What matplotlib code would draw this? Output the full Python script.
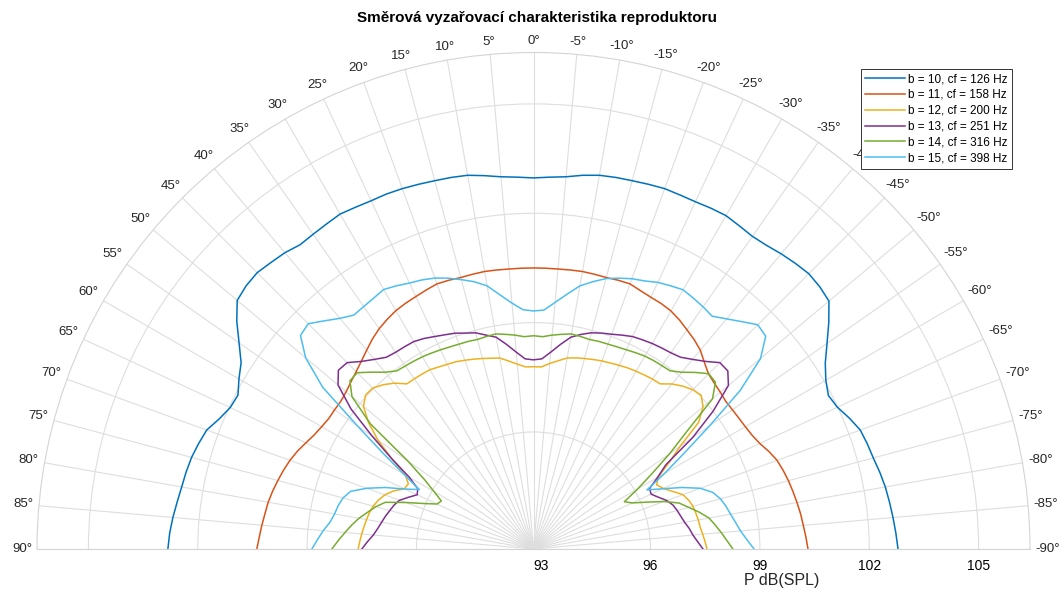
import numpy as np
import matplotlib
matplotlib.use("Agg")
import matplotlib.pyplot as plt

plt.rcParams['font.family'] = ['Liberation Sans', 'DejaVu Sans']

# angles in degrees, -90 (right) .. 90 (left), step 2.5
theta_deg = np.arange(-90, 90.1, 2.5)

labels = ['b = 10, cf = 126 Hz', 'b = 11, cf = 158 Hz', 'b = 12, cf = 200 Hz',
          'b = 13, cf = 251 Hz', 'b = 14, cf = 316 Hz', 'b = 15, cf = 398 Hz']

# values in dB(SPL), ordered from -90 to 90 deg
spl_b10 = [102.79, 102.74, 102.69, 102.64, 102.59, 102.52, 102.44, 102.39, 102.33, 102.17, 101.99, 101.91,
           102.05, 102.28, 102.62, 103.00, 103.37, 103.44, 103.47, 103.42, 103.36, 103.29, 103.26, 103.30,
           103.35, 103.33, 103.30, 103.30, 103.31, 103.28, 103.25, 103.23, 103.20, 103.13, 103.04, 103.00,
           102.97,
           103.00, 103.04, 103.12, 103.20, 103.23, 103.25, 103.28, 103.31, 103.33, 103.33, 103.36, 103.40,
           103.36, 103.33, 103.31, 103.40, 103.45, 103.51, 103.48, 103.40, 103.05, 102.65, 102.30, 102.12,
           101.93, 101.97, 102.12, 102.33, 102.42, 102.50, 102.55, 102.59, 102.65, 102.72, 102.78, 102.82]
spl_b11 = [100.32, 100.27, 100.22, 100.18, 100.13, 100.08, 100.03, 99.97, 99.90, 99.78, 99.64, 99.55,
           99.50, 99.47, 99.45, 99.44, 99.48, 99.52, 99.58, 99.73, 99.91, 100.03, 100.13, 100.24,
           100.33, 100.38, 100.41, 100.46, 100.53, 100.52, 100.50, 100.51, 100.52, 100.51, 100.50, 100.50,
           100.50,
           100.50, 100.50, 100.51, 100.52, 100.51, 100.50, 100.52, 100.53, 100.48, 100.43, 100.39, 100.34,
           100.26, 100.17, 100.05, 99.91, 99.78, 99.67, 99.58, 99.50, 99.45, 99.45, 99.45, 99.50,
           99.57, 99.68, 99.80, 99.90, 99.98, 100.05, 100.12, 100.18, 100.22, 100.27, 100.32, 100.38]
spl_b12 = [97.55, 97.50, 97.45, 97.40, 97.38, 97.35, 97.32, 97.25, 97.15, 96.92, 96.72, 96.60,
           96.74, 97.20, 97.70, 98.50, 98.86, 99.03, 98.97, 98.85, 98.70, 98.50, 98.48, 98.45,
           98.42, 98.39, 98.35, 98.31, 98.28, 98.24, 98.20, 98.16, 98.11, 98.00, 97.90, 97.79,
           97.79,
           97.79, 97.88, 97.99, 98.11, 98.15, 98.20, 98.25, 98.30, 98.35, 98.38, 98.42, 98.47,
           98.48, 98.49, 98.50, 98.73, 98.90, 99.03, 99.04, 98.88, 98.50, 98.00, 97.40, 96.85,
           96.66, 96.70, 96.95, 97.13, 97.25, 97.34, 97.40, 97.44, 97.48, 97.52, 97.56, 97.60]
spl_b13 = [97.44, 97.30, 97.18, 97.10, 97.00, 96.93, 96.87, 96.80, 96.68, 96.50, 96.35, 96.38,
           96.72, 97.10, 98.12, 99.00, 99.77, 100.02, 100.02, 99.77, 99.58, 99.42, 99.36, 99.33,
           99.30, 99.26, 99.22, 99.14, 99.06, 99.00, 98.93, 98.82, 98.69, 98.45, 98.21, 98.01,
           97.98,
           98.01, 98.21, 98.45, 98.69, 98.80, 98.93, 99.00, 99.09, 99.15, 99.22, 99.30, 99.36,
           99.37, 99.38, 99.42, 99.58, 99.77, 100.02, 100.05, 99.79, 99.10, 98.20, 97.40, 96.72,
           96.37, 96.31, 96.50, 96.70, 96.80, 96.87, 96.95, 97.02, 97.10, 97.20, 97.35, 97.50]
spl_b14 = [98.26, 98.10, 97.96, 97.82, 97.68, 97.45, 97.20, 96.98, 96.60, 96.15, 95.78, 95.60,
           96.10, 96.65, 97.35, 98.10, 99.20, 99.56, 99.59, 99.36, 99.12, 98.95, 98.93, 98.92,
           98.90, 98.86, 98.82, 98.79, 98.77, 98.76, 98.74, 98.76, 98.78, 98.73, 98.68, 98.62,
           98.64,
           98.62, 98.68, 98.73, 98.78, 98.76, 98.74, 98.76, 98.77, 98.79, 98.82, 98.85, 98.88,
           98.90, 98.92, 98.95, 99.12, 99.37, 99.63, 99.62, 99.29, 98.43, 97.00, 96.34, 95.94,
           95.64, 95.71, 96.05, 96.52, 97.05, 97.27, 97.45, 97.65, 97.82, 97.98, 98.15, 98.32]
spl_b15 = [98.84, 98.65, 98.49, 98.38, 98.28, 98.20, 98.10, 97.95, 97.66, 97.20, 96.70, 96.30,
           96.95, 97.70, 98.70, 99.94, 100.92, 101.43, 101.49, 101.25, 101.03, 100.84, 100.90, 100.95,
           101.00, 100.93, 100.86, 100.75, 100.68, 100.58, 100.47, 100.30, 100.12, 99.84, 99.58, 99.35,
           99.32,
           99.36, 99.56, 99.82, 100.12, 100.30, 100.44, 100.58, 100.70, 100.78, 100.84, 100.93, 101.01,
           100.95, 100.91, 100.88, 101.05, 101.28, 101.53, 101.46, 100.95, 100.08, 98.70, 97.69, 96.90,
           96.32, 96.68, 97.20, 97.66, 98.05, 98.20, 98.28, 98.33, 98.42, 98.58, 98.72, 98.87]

series = [spl_b10, spl_b11, spl_b12, spl_b13, spl_b14, spl_b15]
colors = ['#0072BD', '#D95319', '#EDB120', '#7E2F8E', '#77AC30', '#4DBEEE']

r_ticks = [93, 96, 99, 102, 105]
deg_ticks = list(range(-90, 91, 5))
grid_col = '#dedede'
txt_col = '#262626'

W, H = 1059, 593
fig = plt.figure(figsize=(W / 100, H / 100), dpi=100)
# half disc: centre (533.5, 549) px, radius 496.5 px -> square box around it
R = 496.5
cx, cy = 533.5, 549
box_cy = cy - R / 2
ax = fig.add_axes([(cx - R) / W, (H - (box_cy + R)) / H, 2 * R / W, 2 * R / H],
                  projection='polar')
ax.set_theta_zero_location('N')
ax.set_theta_direction(1)
ax.set_thetamin(-90)
ax.set_thetamax(90)
ax.set_rlim(92.79, 106.41)

th = np.deg2rad(theta_deg)
for vals, col, lab in zip(series, colors, labels):
    ax.plot(th, vals, color=col, lw=1.1, label=lab)

ax.set_thetagrids(deg_ticks, labels=[''] * len(deg_ticks))
ax.set_rgrids(r_ticks, labels=[str(v) for v in r_ticks], fontsize=9.5, color=txt_col)
ax.grid(True, color=grid_col, lw=0.8)
for sp in ax.spines.values():
    sp.set_color('#d4d4d4')
    sp.set_linewidth(0.8)

# angle labels outside the rim, MATLAB style (centred, fixed gap from the rim)
rmax = ax.get_rmax()
for d in deg_ticks:
    s = f'{d}°'
    ndig = sum(ch.isdigit() for ch in s)
    hw = (7.3 * ndig + 4.4 * (d < 0) + 5.3) / 2
    hh = 7
    t = np.deg2rad(d)
    dist = 5 + hw * abs(np.sin(t)) + hh * abs(np.cos(t))
    ax.annotate(s, xy=(t, rmax), xycoords='data',
                xytext=(-np.sin(t) * dist, np.cos(t) * dist), textcoords='offset pixels',
                ha='center', va='center', fontsize=9.5, color=txt_col, annotation_clip=False)

fig.text(537 / W, 1 - 18 / H, 'Směrová vyzařovací charakteristika reproduktoru',
         ha='center', va='center', fontsize=11, fontweight='bold', color='black')
fig.text(782 / W, 1 - 580 / H, 'P dB(SPL)', ha='center', va='center',
         fontsize=11.5, color=txt_col)

leg = fig.legend(loc='upper right', bbox_to_anchor=(1018 / W, 1 - 63 / H),
                 fontsize=8.5, fancybox=False, framealpha=1, edgecolor='#333333',
                 handlelength=3.4, borderpad=0.35, labelspacing=0.33, handletextpad=0.3)
leg.get_frame().set_linewidth(0.7)
leg.set_zorder(10)

fig.savefig('out.png', dpi=100)
